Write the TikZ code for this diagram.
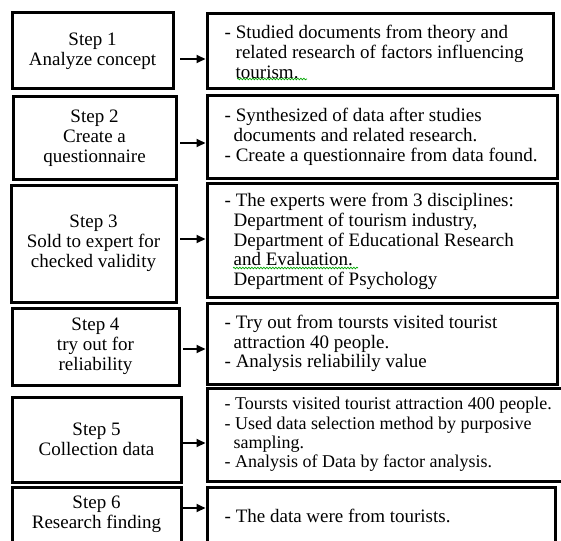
\documentclass[tikz,border=0pt]{standalone}
\usepackage{fontspec}
\setmainfont{Liberation Serif}
\usetikzlibrary{arrows.meta,decorations.pathmorphing}
\begin{document}
\begin{tikzpicture}[x=1pt,y=-1pt,
  box/.style={draw=black,line width=3pt,rectangle,inner sep=0pt},
  stepbox/.style={box,align=center,font=\fontsize{19}{20}\selectfont},
  descbox/.style={box},
  desctext/.style={anchor=west,align=left,inner sep=0pt,font=\fontsize{19}{19.7}\selectfont},
  tighttext/.style={desctext,font=\fontsize{18}{19.4}\selectfont},
  arr/.style={line width=2pt,-{Triangle[length=9pt,width=8pt]}},
  squiggle/.style={draw=green!65!black,line width=0.7pt,decorate,decoration={snake,amplitude=0.8pt,segment length=3pt}}]
\useasboundingbox (0,0) rectangle (561,540);
\fill[white] (0,0) rectangle (561,540);
\clip (0,0) rectangle (561,540);
% left step boxes
\node[stepbox,minimum width=161pt,minimum height=76pt] (l1) at (92.5,51) {Step 1\\Analyze concept};
\node[stepbox,minimum width=163pt,minimum height=82pt] (l2) at (94.5,138) {Step 2\\Create a\\questionnaire};
\node[stepbox,minimum width=165pt,minimum height=117pt] (l3) at (93.5,243.5) {Step 3\\Sold to expert for\\checked validity};
\node[stepbox,minimum width=167pt,minimum height=77pt] (l4) at (95.5,346.5) {Step 4\\try out for\\reliability};
\node[stepbox,minimum width=169pt,minimum height=85pt] (l5) at (96.5,439.5) {Step 5\\Collection data};
\node[stepbox,minimum width=169pt,minimum height=55pt] (l6) at (96.5,514.5) {Step 6\\Research finding};
% right description boxes
\node[descbox,minimum width=346pt,minimum height=75pt] (r1) at (380,51.5) {};
\node[descbox,minimum width=350pt,minimum height=82pt] (r2) at (382,137) {};
\node[descbox,minimum width=350pt,minimum height=114pt] (r3) at (382,240) {};
\node[descbox,minimum width=350pt,minimum height=81pt] (r4) at (382,343.5) {};
\node[descbox,minimum width=359pt,minimum height=93pt] (r5) at (386.5,434.5) {};
\node[descbox,minimum width=348pt,minimum height=58pt] (r6) at (381,516) {};
% texts
\node[desctext] (t1) at ([xshift=19pt,yshift=-0.5pt]r1.west) {- Studied documents from theory and\\\hspace*{11pt}related research of factors influencing\\\hspace*{11pt}tourism.};
\node[desctext] (t2) at ([xshift=19pt]r2.west) {- Synthesized of data after studies\\\hspace*{9pt}documents and related research.\\- Create a questionnaire from data found.};
\node[desctext] (t3) at ([xshift=19pt,yshift=-1.5pt]r3.west) {- The experts were from 3 disciplines:\\\hspace*{9pt}Department of tourism industry,\\\hspace*{9pt}Department of Educational Research\\\hspace*{9pt}and Evaluation.\\\hspace*{9pt}Department of Psychology};
\node[desctext] (t4) at ([xshift=19pt]r4.west) {- Try out from toursts visited tourist\\\hspace*{9pt}attraction 40 people.\\- Analysis reliabilily value};
\node[tighttext] (t5) at ([xshift=19pt]r5.west) {- Toursts visited tourist attraction 400 people.\\- Used data selection method by purposive\\\hspace*{9pt}sampling.\\- Analysis of Data by factor analysis.};
\node[desctext] (t6) at ([xshift=19pt]r6.west) {- The data were from tourists.};
% arrows
\draw[arr] ([shift={(5.5,8)}]l1.east) -- ([shift={(0,7.5)}]r1.west);
\draw[arr] ([shift={(2.5,5)}]l2.east) -- ([shift={(0,6)}]r2.west);
\draw[arr] ([shift={(2.5,-4.5)}]l3.east) -- ([shift={(0,-1)}]r3.west);
\draw[arr] ([shift={(2.5,2.5)}]l4.east) -- ([shift={(0,5.5)}]r4.west);
\draw[arr] ([shift={(0.5,3.5)}]l5.east) -- ([shift={(0,8.5)}]r5.west);
\draw[arr] ([shift={(0.5,-6.5)}]l6.east) -- ([shift={(0,-8)}]r6.west);
% spell-check underlines
\draw[squiggle] (237,79) -- (307,79);
\draw[squiggle] (233,268) -- (358,268);
\end{tikzpicture}
\end{document}
